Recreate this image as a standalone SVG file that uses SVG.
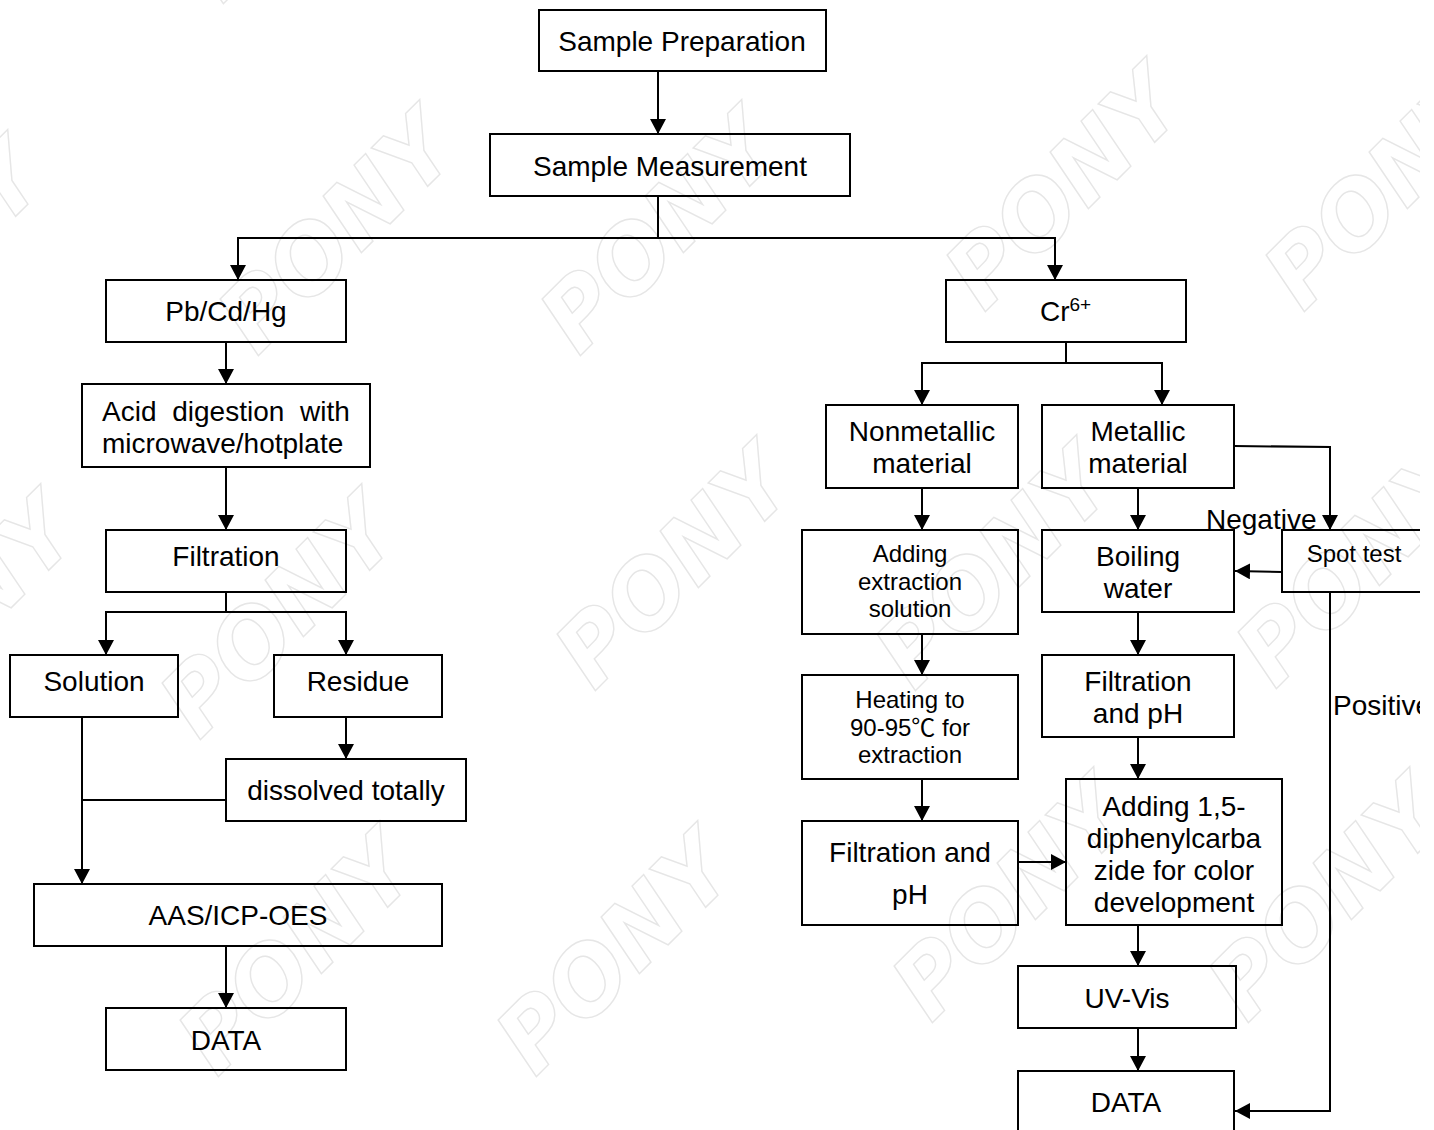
<svg xmlns="http://www.w3.org/2000/svg" width="1434" height="1130" viewBox="0 0 1434 1130">
<style>
.wm{font-family:"DejaVu Sans",sans-serif;font-weight:bold;font-style:italic;font-size:92px;fill:none;stroke:#e6e6e6;stroke-width:1.4}
.box{fill:none;stroke:#000;stroke-width:2}
.c{fill:none;stroke:#000;stroke-width:2}
text.t{font-family:"Liberation Sans",Arial,"Noto Sans CJK SC",sans-serif;font-size:28px;fill:#000;text-anchor:middle}
text.s{font-size:24px}
text.l{text-anchor:start}
</style>
<defs>
<marker id="a" markerUnits="userSpaceOnUse" markerWidth="16" markerHeight="16" refX="15" refY="8" orient="auto"><path d="M0 0L15 8L0 16Z" fill="#000"/></marker>
</defs>
<rect width="1434" height="1130" fill="#fff"/>
<g id="watermark">
<text class="wm" transform="translate(222,5) rotate(-45)">PONY</text>
<text class="wm" transform="translate(257,357) rotate(-45)">PONY</text>
<text class="wm" transform="translate(579,357) rotate(-45)">PONY</text>
<text class="wm" transform="translate(984,313) rotate(-45)">PONY</text>
<text class="wm" transform="translate(1303,313) rotate(-45)">PONY</text>
<text class="wm" transform="translate(-155,387) rotate(-45)">PONY</text>
<text class="wm" transform="translate(-122,741) rotate(-45)">PONY</text>
<text class="wm" transform="translate(199,741) rotate(-45)">PONY</text>
<text class="wm" transform="translate(594,692) rotate(-45)">PONY</text>
<text class="wm" transform="translate(914,692) rotate(-45)">PONY</text>
<text class="wm" transform="translate(1275,690) rotate(-45)">PONY</text>
<text class="wm" transform="translate(217,1078) rotate(-45)">PONY</text>
<text class="wm" transform="translate(535,1078) rotate(-45)">PONY</text>
<text class="wm" transform="translate(931,1024) rotate(-45)">PONY</text>
<text class="wm" transform="translate(1247,1024) rotate(-45)">PONY</text>
<text class="wm" transform="translate(-188,1122) rotate(-45)">PONY</text>
</g>
<g id="connectors">
<path class="c" marker-end="url(#a)" d="M658 71V134"/>
<path class="c" d="M658 196V238"/>
<path class="c" marker-end="url(#a)" d="M658 238H238V280"/>
<path class="c" marker-end="url(#a)" d="M658 238H1055V280"/>
<path class="c" marker-end="url(#a)" d="M226 342V384"/>
<path class="c" marker-end="url(#a)" d="M226 467V530"/>
<path class="c" d="M226 592V612"/>
<path class="c" marker-end="url(#a)" d="M226 612H106V655"/>
<path class="c" marker-end="url(#a)" d="M226 612H346V655"/>
<path class="c" marker-end="url(#a)" d="M346 717V759"/>
<path class="c" marker-end="url(#a)" d="M82 717V884"/>
<path class="c" d="M226 800H82"/>
<path class="c" marker-end="url(#a)" d="M226 946V1008"/>
<path class="c" d="M1066 342V363"/>
<path class="c" marker-end="url(#a)" d="M1066 363H922V405"/>
<path class="c" marker-end="url(#a)" d="M1066 363H1162V405"/>
<path class="c" marker-end="url(#a)" d="M922 488V530"/>
<path class="c" marker-end="url(#a)" d="M1138 488V530"/>
<path class="c" marker-end="url(#a)" d="M1234 446L1330 447V530"/>
<path class="c" marker-end="url(#a)" d="M1282 572L1235 571"/>
<path class="c" marker-end="url(#a)" d="M1330 592V1111H1235"/>
<path class="c" marker-end="url(#a)" d="M1138 612V655"/>
<path class="c" marker-end="url(#a)" d="M922 634V675"/>
<path class="c" marker-end="url(#a)" d="M922 779V821"/>
<path class="c" marker-end="url(#a)" d="M1138 737V779"/>
<path class="c" marker-end="url(#a)" d="M1018 862H1066"/>
<path class="c" marker-end="url(#a)" d="M1138 925V966"/>
<path class="c" marker-end="url(#a)" d="M1138 1028V1071"/>
</g>
<g id="sample-preparation"><rect class="box" x="539" y="10" width="287" height="61"/><text class="t" x="682" y="51">Sample Preparation</text></g>
<g id="sample-measurement"><rect class="box" x="490" y="134" width="360" height="62"/><text class="t" x="670" y="176">Sample Measurement</text></g>
<g id="pb-cd-hg"><rect class="box" x="106" y="280" width="240" height="62"/><text class="t" x="226" y="321">Pb/Cd/Hg</text></g>
<g id="cr6"><rect class="box" x="946" y="280" width="240" height="62"/><text class="t l" x="1040" y="321">Cr<tspan font-size="19" dy="-10">6+</tspan></text></g>
<g id="acid-digestion"><rect class="box" x="82" y="384" width="288" height="83"/><text class="t l" x="102" y="421" word-spacing="8">Acid digestion with</text><text class="t l" x="102" y="453">microwave/hotplate</text></g>
<g id="filtration"><rect class="box" x="106" y="530" width="240" height="62"/><text class="t" x="226" y="566">Filtration</text></g>
<g id="solution"><rect class="box" x="10" y="655" width="168" height="62"/><text class="t" x="94" y="691">Solution</text></g>
<g id="residue"><rect class="box" x="274" y="655" width="168" height="62"/><text class="t" x="358" y="691">Residue</text></g>
<g id="dissolved"><rect class="box" x="226" y="759" width="240" height="62"/><text class="t" x="346" y="800">dissolved totally</text></g>
<g id="aas"><rect class="box" x="34" y="884" width="408" height="62"/><text class="t" x="238" y="925">AAS/ICP-OES</text></g>
<g id="data-left"><rect class="box" x="106" y="1008" width="240" height="62"/><text class="t" x="226" y="1050">DATA</text></g>
<g id="nonmetallic"><rect class="box" x="826" y="405" width="192" height="83"/><text class="t" x="922" y="441">Nonmetallic</text><text class="t" x="922" y="473">material</text></g>
<g id="metallic"><rect class="box" x="1042" y="405" width="192" height="83"/><text class="t" x="1138" y="441">Metallic</text><text class="t" x="1138" y="473">material</text></g>
<g id="adding-extraction"><rect class="box" x="802" y="530" width="216" height="104"/><text class="t s" x="910" y="562">Adding</text><text class="t s" x="910" y="590">extraction</text><text class="t s" x="910" y="617">solution</text></g>
<g id="boiling"><rect class="box" x="1042" y="530" width="192" height="82"/><text class="t" x="1138" y="566">Boiling</text><text class="t" x="1138" y="598">water</text></g>
<g id="spot-test"><rect class="box" x="1282" y="530" width="150" height="62"/><text class="t s" x="1354" y="562">Spot test</text></g>
<g id="filtration-ph-right"><rect class="box" x="1042" y="655" width="192" height="82"/><text class="t" x="1138" y="691">Filtration</text><text class="t" x="1138" y="723">and pH</text></g>
<g id="heating"><rect class="box" x="802" y="675" width="216" height="104"/><text class="t s" x="910" y="708">Heating to</text><text class="t s" x="910" y="736">90-95℃ for</text><text class="t s" x="910" y="763">extraction</text></g>
<g id="filtration-ph-left"><rect class="box" x="802" y="821" width="216" height="104"/><text class="t" x="910" y="862">Filtration and</text><text class="t" x="910" y="904">pH</text></g>
<g id="adding-dpc"><rect class="box" x="1066" y="779" width="216" height="146"/><text class="t" x="1174" y="816">Adding 1,5-</text><text class="t" x="1174" y="848">diphenylcarba</text><text class="t" x="1174" y="880">zide for color</text><text class="t" x="1174" y="912">development</text></g>
<g id="uv-vis"><rect class="box" x="1018" y="966" width="218" height="62"/><text class="t" x="1127" y="1008">UV-Vis</text></g>
<g id="data-right"><rect class="box" x="1018" y="1071" width="216" height="70"/><text class="t" x="1126" y="1112">DATA</text></g>
<g id="labels"><text class="t l" x="1206" y="529">Negative</text><text class="t l" x="1333" y="715">Positive</text></g>
<rect id="right-margin" x="1420" y="0" width="14" height="1130" fill="#fff"/>
</svg>
